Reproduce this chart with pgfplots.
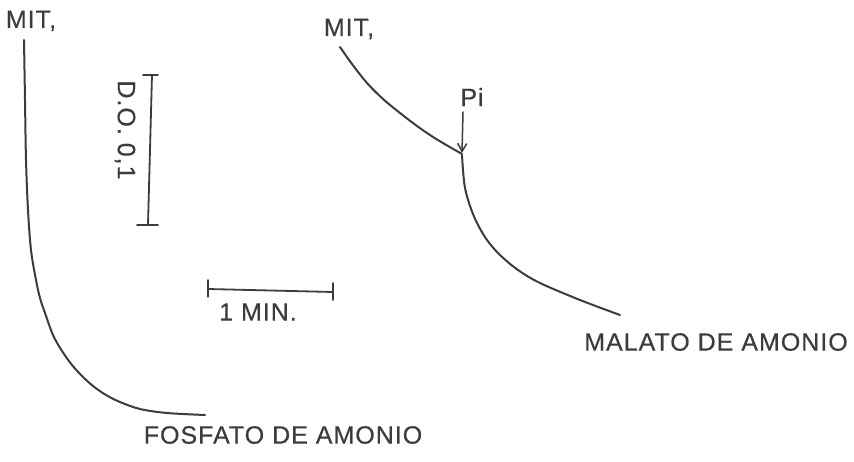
\documentclass[border=0pt]{standalone}
\usepackage{pgfplots}
\pgfplotsset{compat=1.18}
\usetikzlibrary{arrows.meta}
\usepackage{fontspec}
\setmainfont{Liberation Sans}[FakeBold=0.4, LetterSpace=4]
\definecolor{ink}{HTML}{3C3C3C}
\tikzset{lbl/.style={ink, font=\fontsize{25}{27}\selectfont}}
\begin{document}
\begin{tikzpicture}
\begin{axis}[
  width=854pt, height=462pt, scale only axis,
  xmin=0, xmax=854, ymin=0, ymax=462, y dir=reverse,
  axis lines=none, clip=false,
  every axis plot/.append style={ink, line width=2pt, line cap=round},
]
% Fosfato de amonio trace
\addplot[smooth, tension=0.55] coordinates {
  (24,40) (25,100) (26,160) (28,210) (31,250) (36,280) (40,298) (45,313)
  (53,335) (62,351) (72,365) (82,376) (93,386) (106,395) (120,402) (140,409) (167,413) (205,415)};
% Malato de amonio trace, before the phosphate addition
\addplot[smooth, tension=0.55] coordinates {
  (340,47) (352,64) (367,83) (383,99) (400,113) (417,126) (433,137) (448,146) (462,154)};
% after the phosphate addition
\addplot[smooth, tension=0.55] coordinates {
  (462,155) (463,170) (465,188) (470,206) (477,223) (487,240) (500,255)
  (518,270) (540,283) (580,300) (620,315)};
% Pi arrow
\addplot[line width=1.5pt, -{Straight Barb[length=8pt, width=9pt]}] coordinates {(463,112) (462,153)};
% absorbance scale bar
\addplot[line width=1.8pt] coordinates {(152,75) (148,225)};
\addplot[line width=1.8pt] coordinates {(143,75) (158,75)};
\addplot[line width=1.8pt] coordinates {(137,225) (158,225)};
% time scale bar
\addplot[line width=1.8pt] coordinates {(208,289) (333,292)};
\addplot[line width=1.8pt] coordinates {(208,280) (208,297)};
\addplot[line width=1.8pt] coordinates {(333,283) (333,300)};
% labels
\node[lbl] at (axis cs:31,21) {MIT,};
\node[lbl] at (axis cs:349,29) {MIT,};
\node[lbl] at (axis cs:472,97) {Pi};
\node[lbl, rotate=-90] at (axis cs:125,130) {D.O. 0,1};
\node[lbl] at (axis cs:258,312) {1 MIN.};
\node[lbl] at (axis cs:716,342) {MALATO DE AMONIO};
\node[lbl] at (axis cs:283,435) {FOSFATO DE AMONIO};
\end{axis}
\useasboundingbox (current axis.south west) rectangle (current axis.north east);
\end{tikzpicture}
\end{document}
